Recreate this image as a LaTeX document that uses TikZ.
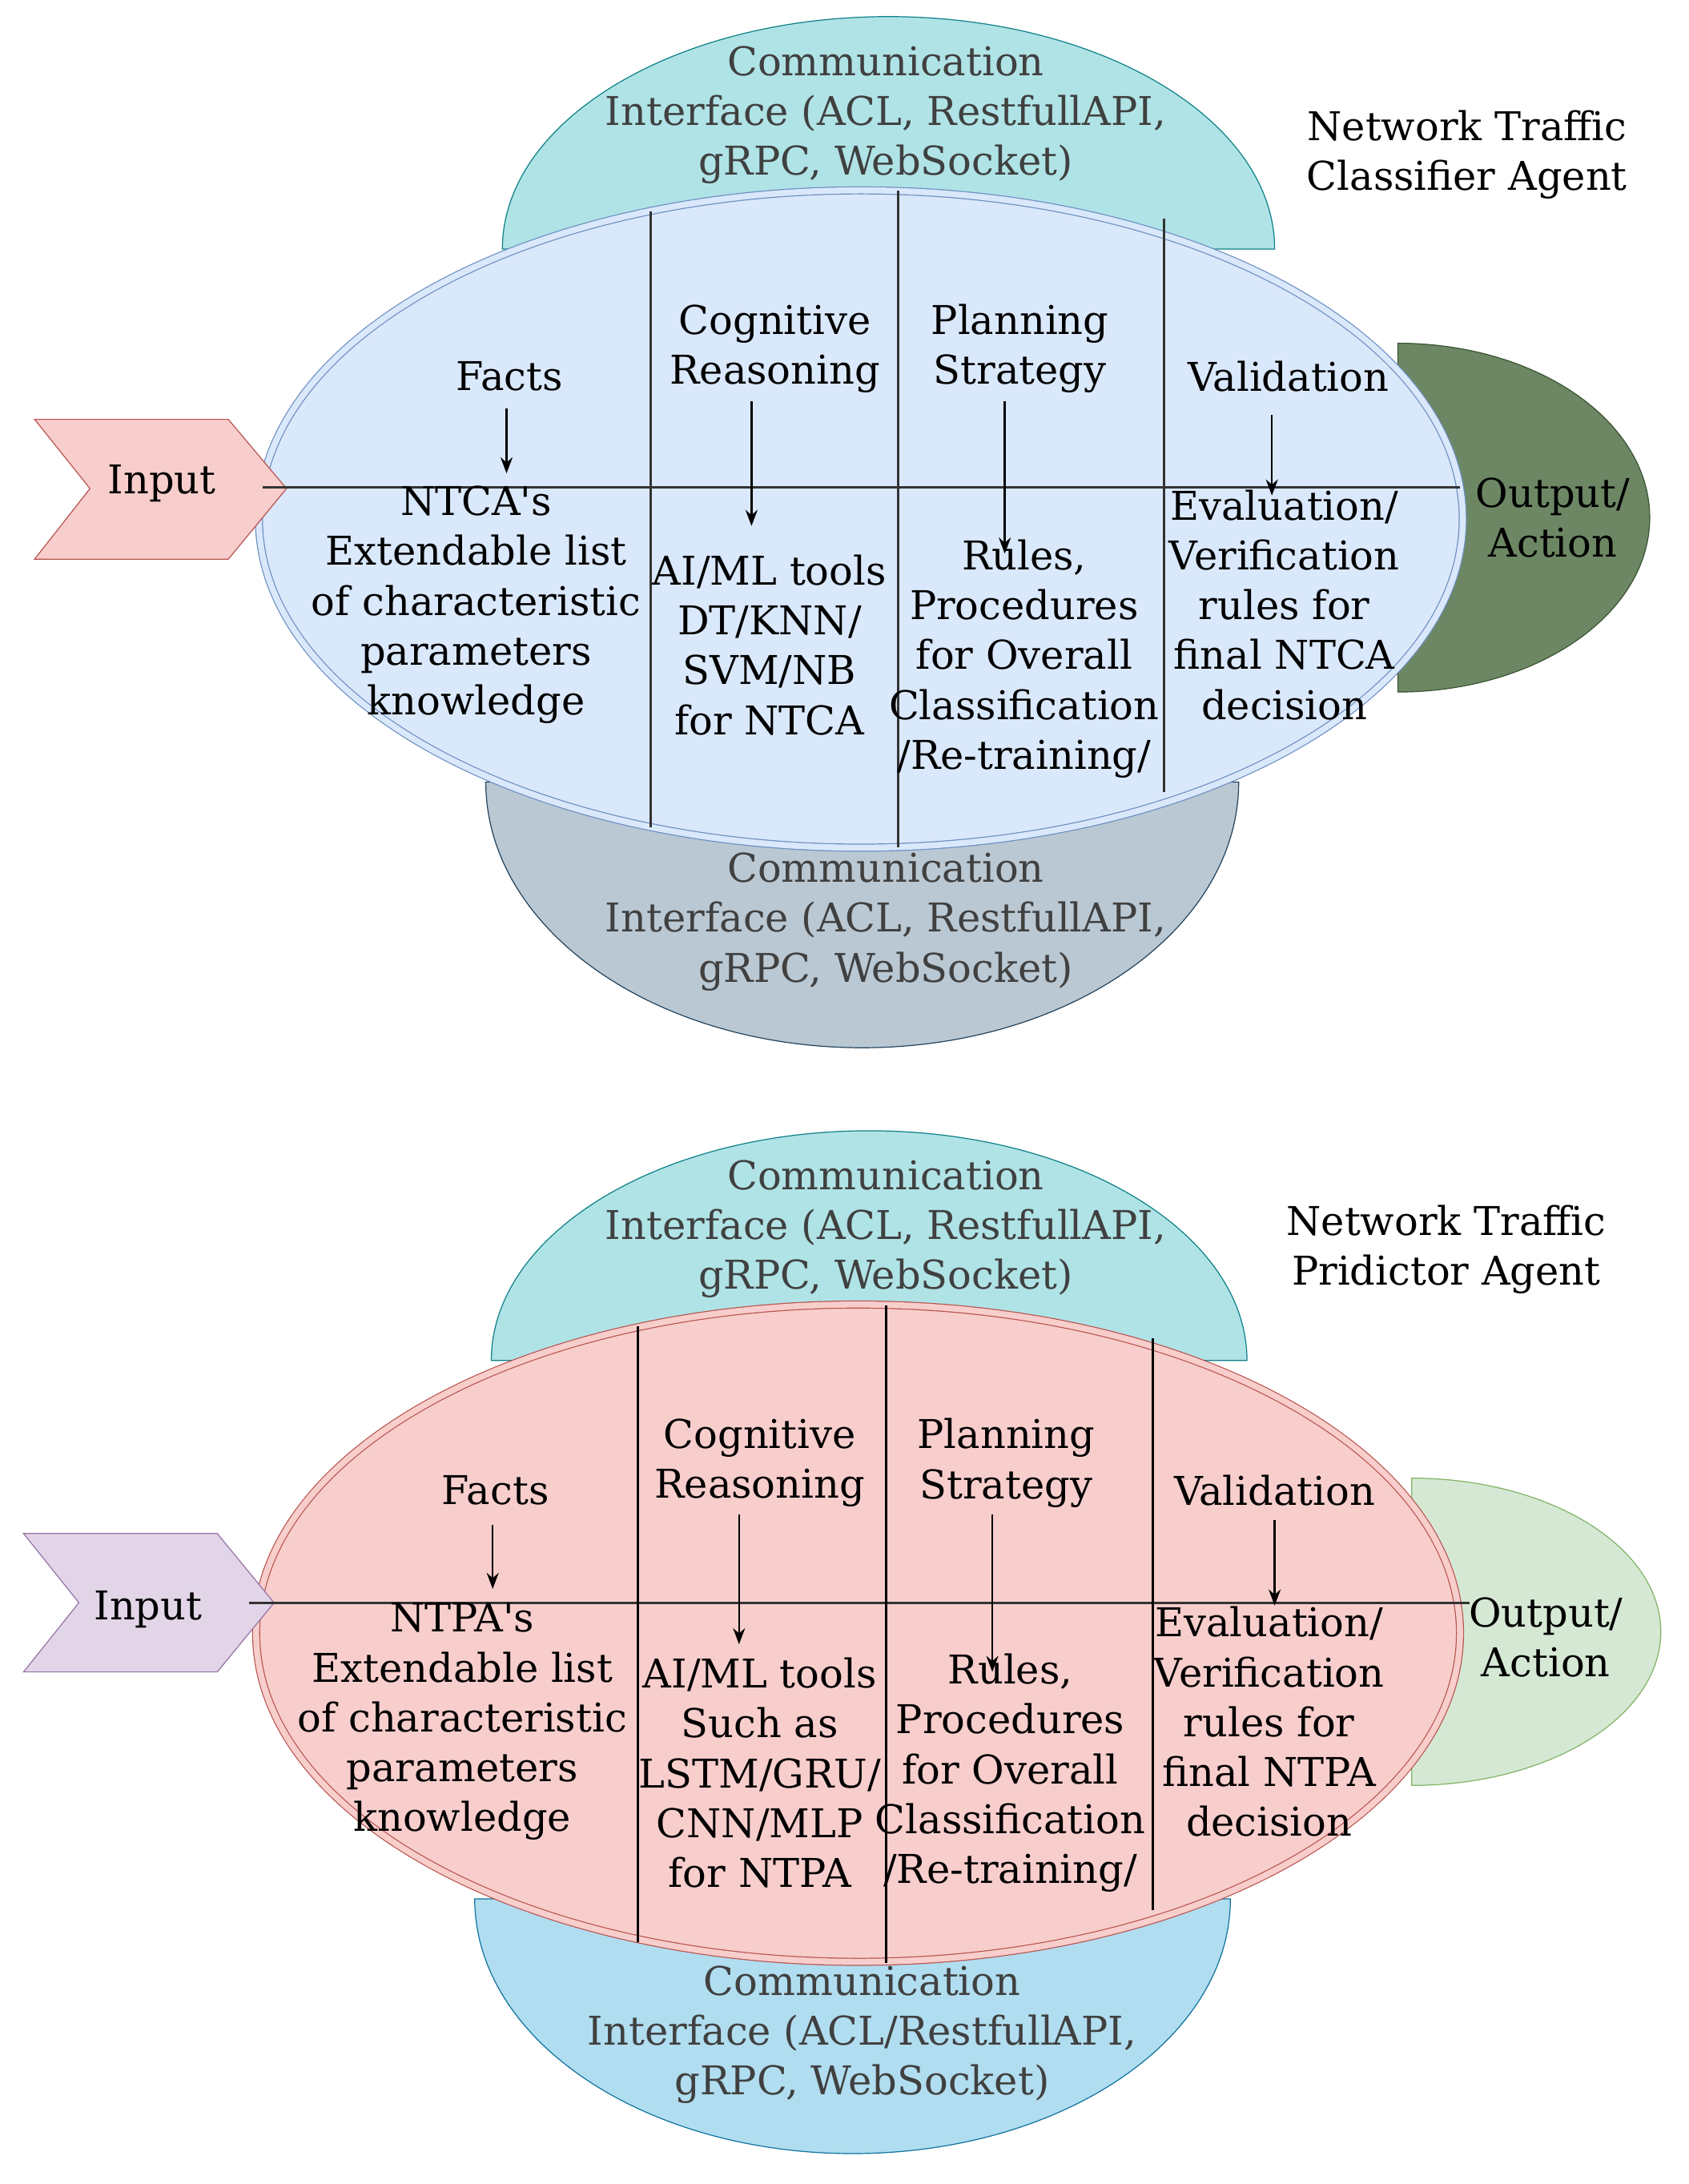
\documentclass[tikz,border=0pt]{standalone}
\usepackage{fontspec}
\setmainfont{DejaVu Serif}
\usetikzlibrary{arrows.meta,shapes.geometric,positioning}
\definecolor{capteal}{HTML}{B0E3E6}
\definecolor{capteald}{HTML}{0E8088}
\definecolor{capgrey}{HTML}{BAC8D3}
\definecolor{capgreyd}{HTML}{23445D}
\definecolor{capblue}{HTML}{B1DDF0}
\definecolor{capblued}{HTML}{10739E}
\definecolor{blfill}{HTML}{DAE8FC}
\definecolor{bldraw}{HTML}{6C8EBF}
\definecolor{rdfill}{HTML}{F8CECC}
\definecolor{rddraw}{HTML}{B85450}
\definecolor{dgfill}{HTML}{6D8764}
\definecolor{dgdraw}{HTML}{3A5431}
\definecolor{lgfill}{HTML}{D5E8D4}
\definecolor{lgdraw}{HTML}{82B366}
\definecolor{pufill}{HTML}{E1D5E7}
\definecolor{pudraw}{HTML}{9673A6}

\begin{document}
\begin{tikzpicture}[x=0.02cm, y=-0.02cm,
    txt/.style={align=center, font=\fontsize{16.3}{20.5}\selectfont, inner sep=1pt},
    captxt/.style={txt, text=black!75},
    arr/.style={-Stealth, thick},
    sep/.style={line width=1pt, black!80},
    body/.style={ellipse, draw=#1, double distance=2.5pt, minimum width=17.4cm, minimum height=9.5cm}]
    \useasboundingbox (0,0) rectangle (1220,1578);

    %% Classifier agent
    \draw[fill=capteal, draw=capteald] (363,180) arc[start angle=180, end angle=360, x radius=279, y radius=168] -- cycle;
    \draw[fill=capgrey, draw=capgreyd] (351,565) arc[start angle=180, end angle=0, x radius=272, y radius=192] -- cycle;
    \draw[fill=dgfill, draw=dgdraw] (1010,248) arc[start angle=270, end angle=450, x radius=182, y radius=126] -- cycle;
    \node[body=bldraw, fill=blfill, double=blfill] (ell1) at (622,375) {};
    \draw[fill=rdfill, draw=rddraw] (25,303) -- (165,303) -- (207,353) -- (165,404) -- (25,404) -- (65,353) -- cycle;
    \node[txt] (in1) at (117,349) {Input};
    \draw[sep] (190,352) -- (1055,352);
    \draw[sep] (470,153) -- (470,598);
    \draw[sep] (649,138) -- (649,612);
    \draw[sep] (841,158) -- (841,572);

    \node[captxt] (ct1) at (640,83) {Communication\\Interface (ACL, RestfullAPI,\\gRPC, WebSocket)};
    \node[captxt] (cb1) at (640,666) {Communication\\Interface (ACL, RestfullAPI,\\gRPC, WebSocket)};
    \node[txt] (ttl1) at (1060,112) {Network Traffic\\Classifier Agent};
    \node[txt] (out1) at (1122,374) {Output/\\Action};

    \node[txt] (fa1) at (368,272) {Facts};
    \node[txt] (co1) at (560,252) {Cognitive\\Reasoning};
    \node[txt] (pl1) at (737,252) {Planning\\Strategy};
    \node[txt] (va1) at (931,272) {Validation};
    \node[txt] (kn1) at (344,437) {NTCA\textquotesingle s\\Extendable list\\of characteristic\\parameters\\knowledge};
    \node[txt] (ai1) at (556,466) {AI/ML tools\\DT/KNN/\\SVM/NB\\for NTCA};
    \node[txt] (ru1) at (740,476) {Rules,\\Procedures\\for Overall\\Classification\\/Re-training/};
    \node[txt] (ev1) at (928,437) {Evaluation/\\Verification\\rules for\\final NTCA\\decision};
    \coordinate (fe1) at (366,342);
    \coordinate (ce1) at (543,380);
    \coordinate (pe1) at (726,400);
    \coordinate (ve1) at (919,358);
    \draw[arr] (366,295) -- (fe1);
    \draw[arr] (543,290) -- (ce1);
    \draw[arr] (726,290) -- (pe1);
    \draw[arr] (919,300) -- (ve1);

    %% Predictor agent
    \draw[fill=capteal, draw=capteald] (355,983) arc[start angle=180, end angle=360, x radius=273, y radius=166] -- cycle;
    \draw[fill=capblue, draw=capblued] (343,1372) arc[start angle=180, end angle=0, x radius=273, y radius=184] -- cycle;
    \draw[fill=lgfill, draw=lgdraw] (1020,1068) arc[start angle=270, end angle=450, x radius=180, y radius=111] -- cycle;
    \node[body=rddraw, fill=rdfill, double=rdfill] (ell2) at (620,1180) {};
    \draw[fill=pufill, draw=pudraw] (17,1108) -- (157,1108) -- (198,1158) -- (157,1208) -- (17,1208) -- (57,1158) -- cycle;
    \node[txt] (in2) at (107,1163) {Input};
    \draw[sep] (180,1158) -- (1062,1158);
    \draw[line width=1pt] (461,958) -- (461,1403);
    \draw[line width=1pt] (640,943) -- (640,1418);
    \draw[line width=1pt] (833,967) -- (833,1380);

    \node[captxt] (ct2) at (640,888) {Communication\\Interface (ACL, RestfullAPI,\\gRPC, WebSocket)};
    \node[captxt] (cb2) at (623,1470) {Communication\\Interface (ACL/RestfullAPI,\\gRPC, WebSocket)};
    \node[txt] (ttl2) at (1045,903) {Network Traffic\\Pridictor Agent};
    \node[txt] (out2) at (1117,1183) {Output/\\Action};

    \node[txt] (fa2) at (358,1077) {Facts};
    \node[txt] (co2) at (549,1057) {Cognitive\\Reasoning};
    \node[txt] (pl2) at (727,1057) {Planning\\Strategy};
    \node[txt] (va2) at (921,1077) {Validation};
    \node[txt] (kn2) at (334,1244) {NTPA\textquotesingle s\\Extendable list\\of characteristic\\parameters\\knowledge};
    \node[txt] (ai2) at (549,1281) {AI/ML tools\\Such as\\LSTM/GRU/\\CNN/MLP\\for NTPA};
    \node[txt] (ru2) at (730,1281) {Rules,\\Procedures\\for Overall\\Classification\\/Re-training/};
    \node[txt] (ev2) at (917,1244) {Evaluation/\\Verification\\rules for\\final NTPA\\decision};
    \coordinate (fe2) at (356,1148);
    \coordinate (ce2) at (534,1188);
    \coordinate (pe2) at (717,1208);
    \coordinate (ve2) at (921,1160);
    \draw[arr] (356,1102) -- (fe2);
    \draw[arr] (534,1094) -- (ce2);
    \draw[arr] (717,1094) -- (pe2);
    \draw[arr] (921,1098) -- (ve2);
\end{tikzpicture}
\end{document}
